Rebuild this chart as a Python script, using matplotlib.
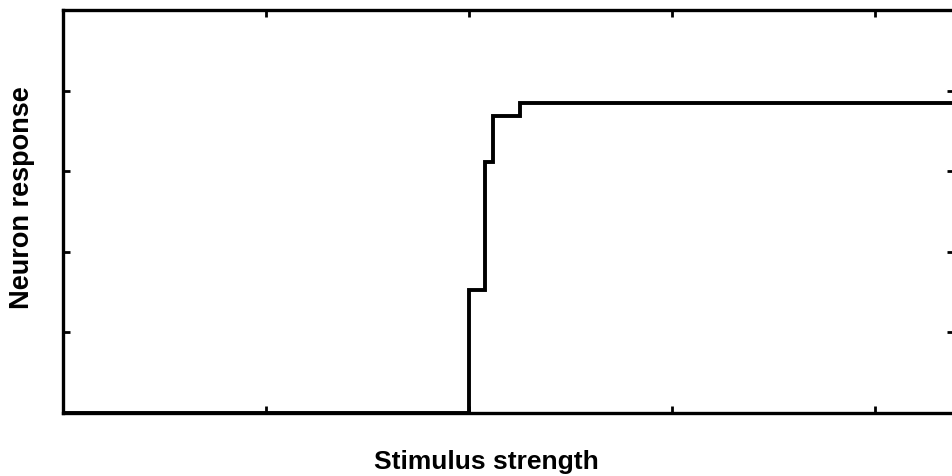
import matplotlib
matplotlib.use("Agg")
import matplotlib.pyplot as plt

# Staircase response curve: stimulus levels where the response steps up
stim_edges = [0.0, 2.0, 2.08, 2.12, 2.25, 4.5]
response = [0.0, 1.52, 3.11, 3.69, 3.85]

x_ticks = [1, 2, 3, 4]
y_ticks = [1, 2, 3, 4]

W, H = 953, 477
fig = plt.figure(figsize=(W / 100, H / 100), dpi=100)
ax = fig.add_axes([63 / W, (H - 414) / H, (954 - 63) / W, (414 - 11) / H])

ax.stairs(response, stim_edges, color="black", linewidth=2.8, baseline=None)

ax.set_xlim(0, 4.39)
ax.set_ylim(0, 5)
ax.set_xticks(x_ticks)
ax.set_yticks(y_ticks)
ax.set_xticklabels([])
ax.set_yticklabels([])
ax.tick_params(direction="in", length=5, width=2, top=True, right=True,
               color="black")
for sp in ax.spines.values():
    sp.set_linewidth(2.4)

font = ["Liberation Sans", "DejaVu Sans"]
fig.text(486 / W, 1 - 462 / H, "Stimulus strength", ha="center", va="center",
         fontsize=19, fontweight="bold", family=font)
fig.text(22 / W, 1 - 198 / H, "Neuron response", ha="center", va="center",
         rotation=90, fontsize=19.5, fontweight="bold", family=font)

fig.savefig("out.png", dpi=100)
